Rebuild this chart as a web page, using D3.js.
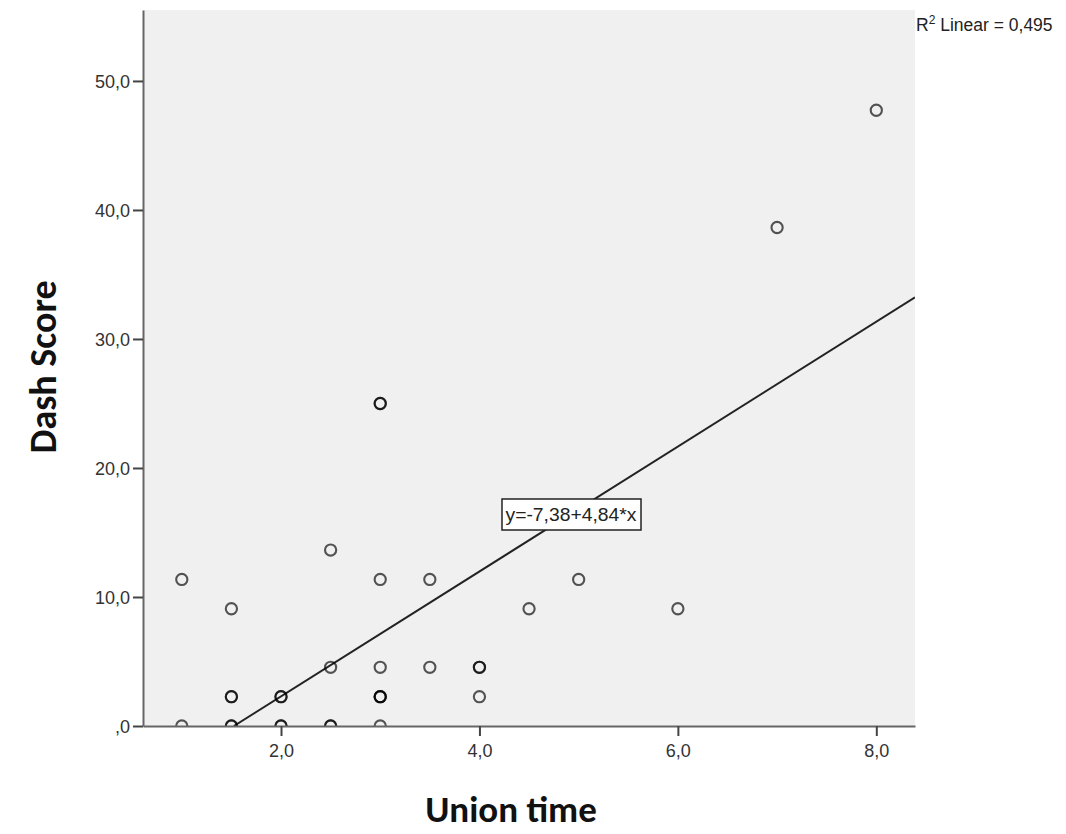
<!DOCTYPE html>
<html><head><meta charset="utf-8">
<script src="https://cdn.jsdelivr.net/npm/d3@7"></script>
<style>body{margin:0;background:#fff}svg{display:block}</style>
</head><body>
<svg id="c" width="1066" height="834"></svg>
<script>
const unionTime = [1,1,1.5,1.5,1.5,1.5,1.5,2,2,2,2,2.5,2.5,2.5,2.5,3,3,3,3,3,3,3,3,3.5,3.5,4,4,4,4.5,5,6,7,8];
const dashScore = [11.36,0,9.09,2.27,2.27,0,0,2.27,2.27,0,0,13.64,4.55,0,0,25,25,11.36,4.55,2.27,2.27,2.27,0,11.36,4.55,4.55,4.55,2.27,9.09,11.36,9.09,38.64,47.73];
const xTicks = [2,4,6,8];
const yTicks = [0,10,20,30,40,50];
const fitIntercept = -7.38, fitSlope = 4.84;
const r2Label = "0,495";

const svg = d3.select("#c");
const L=143, R=915, T=10, B=726;
const x = d3.scaleLinear().domain([0.609, 8.39]).range([L, R]);
const y = d3.scaleLinear().domain([0, 55.5]).range([B, T]);
const comma = (v,p) => v.toFixed(p).replace(".", ",");
const fmt = v => (v===0 ? ",0" : comma(v,1));
const FONT = "Arial, 'Liberation Sans', sans-serif";

svg.append("rect").attr("x",L).attr("y",T).attr("width",R-L).attr("height",B-T).attr("fill","#f0f0f0");

svg.append("defs").append("clipPath").attr("id","clip").append("rect")
  .attr("x",L).attr("y",T).attr("width",R-L).attr("height",B-T);

// regression line
const x0 = -fitIntercept/fitSlope, x1 = x.domain()[1];
svg.append("line").attr("clip-path","url(#clip)")
  .attr("x1",x(x0)).attr("y1",y(fitIntercept+fitSlope*x0))
  .attr("x2",x(x1)).attr("y2",y(fitIntercept+fitSlope*x1))
  .attr("stroke","#222").attr("stroke-width",2);

// points
svg.append("g").attr("clip-path","url(#clip)").selectAll("circle")
  .data(unionTime.map((u,i)=>[u,dashScore[i]])).join("circle")
  .attr("cx",d=>x(d[0])).attr("cy",d=>y(d[1])).attr("r",5.6)
  .attr("fill","none").attr("stroke","#000").attr("stroke-opacity",0.66).attr("stroke-width",2.1);

// axes
const ya = svg.append("g").attr("transform",`translate(${L},0)`)
  .call(d3.axisLeft(y).tickValues(yTicks).tickFormat(fmt).tickSize(10).tickSizeOuter(0));
const xa = svg.append("g").attr("transform",`translate(0,${B})`)
  .call(d3.axisBottom(x).tickValues(xTicks).tickFormat(fmt).tickSize(10).tickSizeOuter(0));
[ya,xa].forEach(g=>{
  g.attr("font-size",null).attr("font-family",null);
  g.select(".domain").attr("stroke","#666").attr("stroke-width",2);
  g.selectAll(".tick line").attr("stroke","#444").attr("stroke-width",2);
  g.selectAll(".tick text").attr("fill","#333").attr("font-family",FONT).attr("font-size",18);
});
ya.selectAll(".tick text").attr("x",-13).attr("dy","0.34em");
xa.selectAll(".tick text").attr("dy","1.0em");

// equation box
const ex = 571, ey = 514;
svg.append("rect").attr("x",ex-69).attr("y",ey-15).attr("width",139).attr("height",31)
  .attr("fill","#fff").attr("stroke","#222").attr("stroke-width",1.5);
svg.append("text").attr("x",ex).attr("y",ey+7).attr("text-anchor","middle")
  .attr("font-family",FONT).attr("font-size",18.5).attr("fill","#222")
  .attr("textLength",131).attr("lengthAdjust","spacingAndGlyphs")
  .text(`y=${comma(fitIntercept,2)}+${comma(fitSlope,2)}*x`);

// R2 label
const rt = svg.append("text").attr("x",916).attr("y",31)
  .attr("font-family",FONT).attr("font-size",17.5).attr("fill","#222");
rt.append("tspan").text("R");
rt.append("tspan").attr("dy",-7).attr("font-size",12).text("2");
rt.append("tspan").attr("dy",7).text(" Linear = " + r2Label);

// titles
svg.append("text").attr("transform","translate(56,367) rotate(-90)").attr("text-anchor","middle")
  .attr("font-family","Carlito, 'Open Sans', sans-serif").attr("font-weight","bold").attr("font-size",38).attr("fill","#111")
  .text("Dash Score");
svg.append("text").attr("x",511).attr("y",822).attr("text-anchor","middle")
  .attr("font-family","Carlito, 'Open Sans', sans-serif").attr("font-weight","bold").attr("font-size",37).attr("fill","#111")
  .text("Union time");
</script>
</body></html>
